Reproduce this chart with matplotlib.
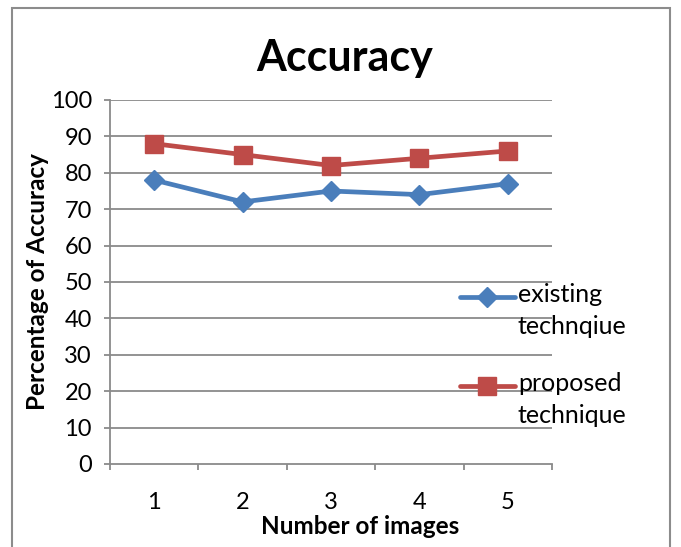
import matplotlib
matplotlib.use("Agg")
import matplotlib.pyplot as plt
from matplotlib.patches import Rectangle
from matplotlib.lines import Line2D

images = [1, 2, 3, 4, 5]
existing = [78, 72, 75, 74, 77]
proposed = [88, 85, 82, 84, 86]
yticks = [0, 10, 20, 30, 40, 50, 60, 70, 80, 90, 100]
series_labels = ['existing\ntechnqiue', 'proposed\ntechnique']

plt.rcParams['font.family'] = ['Lato', 'DejaVu Sans']

W, H = 681, 547
fig = plt.figure(figsize=(W/100, H/100), dpi=100)
fig.patch.set_facecolor('white')
fig.patches.append(Rectangle((12/W, -0.1), (670-12)/W, 1.1 - 8/H, transform=fig.transFigure,
                             fill=False, edgecolor='#8c8c8c', linewidth=1.5))

ax = fig.add_axes([110/W, 1-464/H, (552-110)/W, (464-100)/H])
blue = '#4A7EBB'
red = '#BE4B48'
grid = '#8a8a8a'
LW = 3.4

ax.plot(images, existing, color=blue, lw=LW, marker='D', ms=10, mfc=blue, mec=blue,
        solid_capstyle='round')
ax.plot(images, proposed, color=red, lw=LW, marker='s', ms=13, mfc=red, mec=red,
        solid_capstyle='round')

ax.set_xlim(0.5, 5.5)
ax.set_ylim(0, 100)
ax.set_yticks(yticks)
for y in yticks[1:]:
    ax.axhline(y, color=grid, lw=1.3, zorder=0)
for s in ['top', 'right']:
    ax.spines[s].set_visible(False)
for s in ['left', 'bottom']:
    ax.spines[s].set_color(grid)
    ax.spines[s].set_linewidth(1.3)

ax.set_xticks([i + 0.5 for i in range(0, 6)], minor=True)
ax.set_xticks(images)
ax.set_xticklabels([str(i) for i in images])
ax.tick_params(axis='x', which='minor', length=4.5, color=grid, width=1.3, direction='out')
ax.tick_params(axis='x', which='major', length=0, pad=20, labelsize=17)
ax.tick_params(axis='y', length=4, color=grid, width=1.3, direction='out', labelsize=17, pad=9)

fig.text(345/W, 1-58/H, 'Accuracy', ha='center', va='center', fontsize=31, fontweight='bold')
fig.text(38/W, 1-282/H, 'Percentage of Accuracy', ha='center', va='center', rotation=90,
         fontsize=17.5, fontweight='bold')
fig.text(360/W, 1-526/H, 'Number of images', ha='center', va='center', fontsize=17.5,
         fontweight='bold')

# legend (Excel style: handle beside first line of each label)
for (yc, col, mk, ms, lab) in [(297, blue, 'D', 10, series_labels[0]),
                               (386, red, 's', 13, series_labels[1])]:
    fig.add_artist(Line2D([460/W, 515/W], [1-yc/H, 1-yc/H], transform=fig.transFigure,
                          color=col, lw=LW, solid_capstyle='round'))
    fig.add_artist(Line2D([487/W], [1-yc/H], transform=fig.transFigure, marker=mk, ms=ms,
                          color=col, mfc=col, mec=col, lw=0))
    fig.text(518/W, 1-(yc-14)/H, lab, ha='left', va='top', fontsize=18, linespacing=1.45)

fig.savefig('out.png', dpi=100)
